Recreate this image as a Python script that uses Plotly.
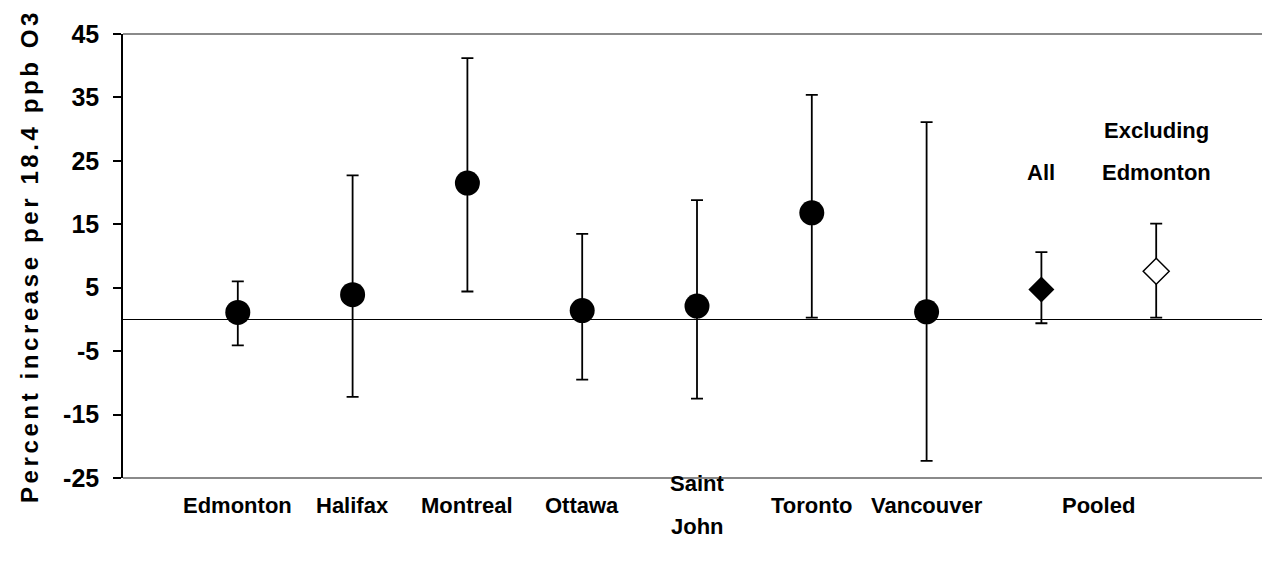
import plotly.graph_objects as go

cities = ["Edmonton", "Halifax", "Montreal", "Ottawa", "Saint<br>John", "Toronto", "Vancouver"]
city_est = [1.1, 3.9, 21.5, 1.4, 2.1, 16.8, 1.2]
city_hi = [6.0, 22.7, 41.2, 13.5, 18.8, 35.4, 31.1]
city_lo = [-4.1, -12.2, 4.4, -9.5, -12.5, 0.3, -22.3]

pooled_group = "Pooled"
pooled_labels = ["All", "Excluding<br>Edmonton"]
pooled_est = [4.7, 7.6]
pooled_hi = [10.6, 15.1]
pooled_lo = [-0.6, 0.3]

yticks = [-25, -15, -5, 5, 15, 25, 35, 45]

FONT = "Liberation Sans, Arial"

xc = list(range(1, len(cities) + 1))
xp = [len(cities) + 1 + i for i in range(len(pooled_est))]

fig = go.Figure()
fig.add_trace(go.Scatter(
    x=xc, y=city_est, mode="markers",
    marker=dict(symbol="circle", size=25, color="black"),
    error_y=dict(type="data", symmetric=False,
                 array=[h - e for h, e in zip(city_hi, city_est)],
                 arrayminus=[e - l for e, l in zip(city_est, city_lo)],
                 color="black", thickness=1.8, width=6),
    showlegend=False))
fig.add_trace(go.Scatter(
    x=[xp[0]], y=[pooled_est[0]], mode="markers",
    marker=dict(symbol="diamond", size=20, color="black"),
    error_y=dict(type="data", symmetric=False,
                 array=[pooled_hi[0] - pooled_est[0]],
                 arrayminus=[pooled_est[0] - pooled_lo[0]],
                 color="black", thickness=1.8, width=6),
    showlegend=False))
fig.add_trace(go.Scatter(
    x=[xp[1]], y=[pooled_est[1]], mode="markers",
    marker=dict(symbol="diamond", size=20, color="white",
                line=dict(color="black", width=1.5)),
    error_y=dict(type="data", symmetric=False,
                 array=[pooled_hi[1] - pooled_est[1]],
                 arrayminus=[pooled_est[1] - pooled_lo[1]],
                 color="black", thickness=1.8, width=6),
    showlegend=False))

LINE_PAPER = 0.095   # spacing between stacked label lines (paper units)
LINE_DATA = 6.6      # spacing between stacked label lines (data units)
BASE_Y = -0.061


def add_label(anns, x, text, y, ref, step):
    parts = text.split("<br>")
    n = len(parts)
    for i, p in enumerate(parts):
        off = ((n - 1) / 2 - i) * step
        anns.append(dict(x=x, y=y + off, xref="x", yref=ref, text="<b>%s</b>" % p,
                         showarrow=False, yanchor="middle",
                         font=dict(family=FONT, size=22, color="black")))


annotations = []
for x, lab in zip(xc, cities):
    add_label(annotations, x, lab, BASE_Y, "paper", LINE_PAPER)
add_label(annotations, (xp[0] + xp[1]) / 2, pooled_group, BASE_Y, "paper", LINE_PAPER)
add_label(annotations, xp[0], pooled_labels[0], 23.2, "y", LINE_DATA)
add_label(annotations, xp[1], pooled_labels[1], 23.2 + LINE_DATA / 2, "y", LINE_DATA)

shapes = [
    dict(type="line", xref="paper", yref="paper", x0=0, x1=1, y0=1, y1=1,
         line=dict(color="#8a8a8a", width=2)),
    dict(type="line", xref="paper", yref="paper", x0=1, x1=1, y0=0, y1=1,
         line=dict(color="#8a8a8a", width=2)),
    dict(type="line", xref="paper", yref="paper", x0=0, x1=1, y0=0, y1=0,
         line=dict(color="#8a8a8a", width=2)),
]

fig.update_layout(
    width=1270, height=573,
    margin=dict(l=115, r=7, t=26, b=103),
    paper_bgcolor="white", plot_bgcolor="white",
    annotations=annotations, shapes=shapes,
    xaxis=dict(range=[0, 10], showgrid=False, zeroline=False, showticklabels=False,
               ticks="", showline=False),
    yaxis=dict(range=[-25, 45], tickvals=yticks, ticktext=["<b>%d</b>" % v for v in yticks],
               showgrid=False, zeroline=True, zerolinecolor="black", zerolinewidth=1,
               showline=True, linecolor="black", linewidth=1.5,
               ticks="outside", ticklen=8, tickcolor="black", tickwidth=1.5,
               ticklabelstandoff=9,
               tickfont=dict(family=FONT, size=25, color="black"),
               title=dict(text="<b>Percent increase per 18.4 ppb O3</b>", standoff=18,
                          font=dict(family=FONT, size=24, color="black"))),
)

post = """
var els = document.querySelectorAll('.ytitle');
els.forEach(function(e){ e.style.letterSpacing = '3.6px'; });
"""
fig.write_html("out.html", post_script=post)
